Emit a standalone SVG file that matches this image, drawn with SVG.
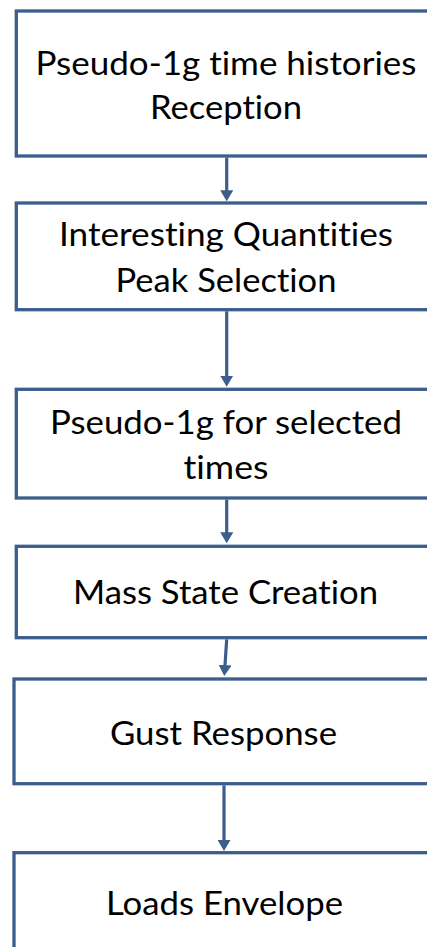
<svg xmlns="http://www.w3.org/2000/svg" width="427" height="947" viewBox="0 0 427 947">
<style>
.box{fill:#ffffff;stroke:#3B5E8C;stroke-width:3.3}
.lbl{font-family:Lato,"Liberation Sans",sans-serif;font-size:33px;fill:#000000;text-anchor:middle;font-variant-ligatures:none;font-feature-settings:"liga" 0,"clig" 0,"dlig" 0}
.conn{stroke:#3B5E8C;stroke-width:3.2;fill:none}
</style>
<defs>
<marker id="ah" viewBox="0 0 11 13" refX="6" refY="6.5" markerWidth="11" markerHeight="13" markerUnits="userSpaceOnUse" orient="auto">
<path d="M0,0 L11,6.5 L0,13 z" fill="#3B5E8C"/>
</marker>
</defs>
<rect width="427" height="947" fill="#ffffff"/>
<g id="n1">
<rect class="box" x="16.3" y="11" width="420" height="145"/>
<text class="lbl" x="226" y="75" textLength="381" lengthAdjust="spacingAndGlyphs">Pseudo-1g time histories</text>
<text class="lbl" x="226" y="118.5" textLength="152" lengthAdjust="spacingAndGlyphs">Reception</text>
</g>
<g id="n2">
<rect class="box" x="16.3" y="203" width="420" height="106.7"/>
<text class="lbl" x="226" y="246" textLength="334" lengthAdjust="spacingAndGlyphs">Interesting Quantities</text>
<text class="lbl" x="226" y="291.5" textLength="221" lengthAdjust="spacingAndGlyphs">Peak Selection</text>
</g>
<g id="n3">
<rect class="box" x="16.3" y="389.3" width="420" height="108.7"/>
<text class="lbl" x="226" y="433.5" textLength="352" lengthAdjust="spacingAndGlyphs">Pseudo-1g for selected</text>
<text class="lbl" x="226" y="478.5" textLength="85" lengthAdjust="spacingAndGlyphs">times</text>
</g>
<g id="n4">
<rect class="box" x="16.3" y="546.3" width="420" height="91.4"/>
<text class="lbl" x="225.5" y="603.5" textLength="305" lengthAdjust="spacingAndGlyphs">Mass State Creation</text>
</g>
<g id="n5">
<rect class="box" x="14" y="679" width="420" height="104.7"/>
<text class="lbl" x="223.5" y="745" textLength="227" lengthAdjust="spacingAndGlyphs">Gust Response</text>
</g>
<g id="n6">
<rect class="box" x="14" y="852.7" width="420" height="120"/>
<text class="lbl" x="224.5" y="915" textLength="237" lengthAdjust="spacingAndGlyphs">Loads Envelope</text>
</g>
<g id="connectors">
<line class="conn" x1="226.7" y1="157.6" x2="226.7" y2="196.3" marker-end="url(#ah)"/>
<line class="conn" x1="226.7" y1="311.3" x2="226.7" y2="381.7" marker-end="url(#ah)"/>
<line class="conn" x1="226.7" y1="499.6" x2="226.7" y2="538.3" marker-end="url(#ah)"/>
<line class="conn" x1="226.7" y1="639.3" x2="224.6" y2="671" marker-end="url(#ah)"/>
<line class="conn" x1="224" y1="785.3" x2="224" y2="846" marker-end="url(#ah)"/>
</g>
</svg>
